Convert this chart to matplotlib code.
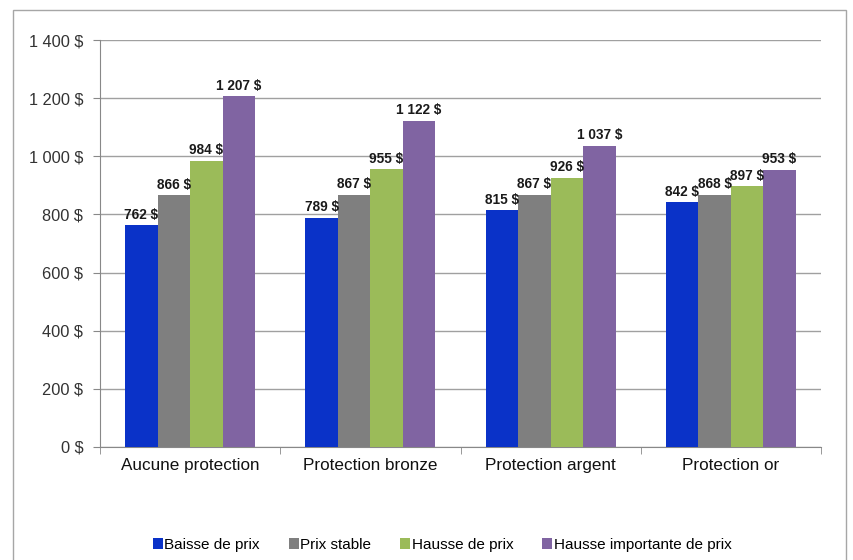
import matplotlib
matplotlib.use("Agg")
import matplotlib.pyplot as plt
import numpy as np
from matplotlib.patches import Rectangle

plt.rcParams['font.family'] = ['Liberation Sans', 'DejaVu Sans']

categories = ["Aucune protection", "Protection bronze", "Protection argent", "Protection or"]
series_names = ["Baisse de prix", "Prix stable", "Hausse de prix", "Hausse importante de prix"]
baisse = [762, 789, 815, 842]
stable = [866, 867, 867, 868]
hausse = [984, 955, 926, 897]
hausse_imp = [1207, 1122, 1037, 953]
colors = ["#0a32c8", "#7f7f7f", "#9bbb59", "#8064a2"]
yticks = [0, 200, 400, 600, 800, 1000, 1200, 1400]

def fmt(v):
    s = f"{v:,}".replace(",", " ")
    return s + " $"

fig = plt.figure(figsize=(8.54, 5.6), dpi=100)
ax = fig.add_axes([100/854, 1-447/560, 721/854, 407/560])

# outer frame
fig.patches.append(Rectangle((13/854, -0.05), 833/854, 1.05 - 10/560, transform=fig.transFigure,
                             fill=False, edgecolor="#a6a6a6", linewidth=1.0))

x = np.arange(len(categories))
w = 0.18
data = [baisse, stable, hausse, hausse_imp]
for i, (vals, c, name) in enumerate(zip(data, colors, series_names)):
    pos = x + (i - 1.5) * w
    ax.bar(pos, vals, width=w, color=c, label=name, zorder=3)
    for p, v in zip(pos, vals):
        ax.text(p, v + 12, fmt(v), ha="center", va="bottom", fontsize=9.8,
                fontweight="bold", color="#1a1a1a", zorder=4)

ax.set_xlim(-0.5, len(categories) - 0.5)
ax.set_ylim(0, 1400)
ax.set_yticks(yticks)
ax.set_yticklabels([fmt(v) for v in yticks], fontsize=11.8, color="#333333")
ax.set_xticks(x)
ax.set_xticklabels(categories, fontsize=12.3, color="#111111")
ax.set_xticks(np.arange(len(categories) + 1) - 0.5, minor=True)
ax.tick_params(axis="x", which="major", length=0, pad=8)
ax.tick_params(axis="x", which="minor", length=5, color="#888888")
ax.tick_params(axis="y", length=5, color="#888888", pad=7)
ax.yaxis.grid(True, color="#a0a0a0", linewidth=1.0, zorder=0)
for s in ["top", "right"]:
    ax.spines[s].set_visible(False)
for s in ["left", "bottom"]:
    ax.spines[s].set_color("#888888")

leg = ax.legend(loc="center", bbox_to_anchor=(442/854, 1-545/560), bbox_transform=fig.transFigure,
                ncol=4, frameon=False, fontsize=11, handlelength=0.65, handleheight=0.7,
                handletextpad=0.1, columnspacing=1.9)

fig.savefig("out.png", dpi=100)
